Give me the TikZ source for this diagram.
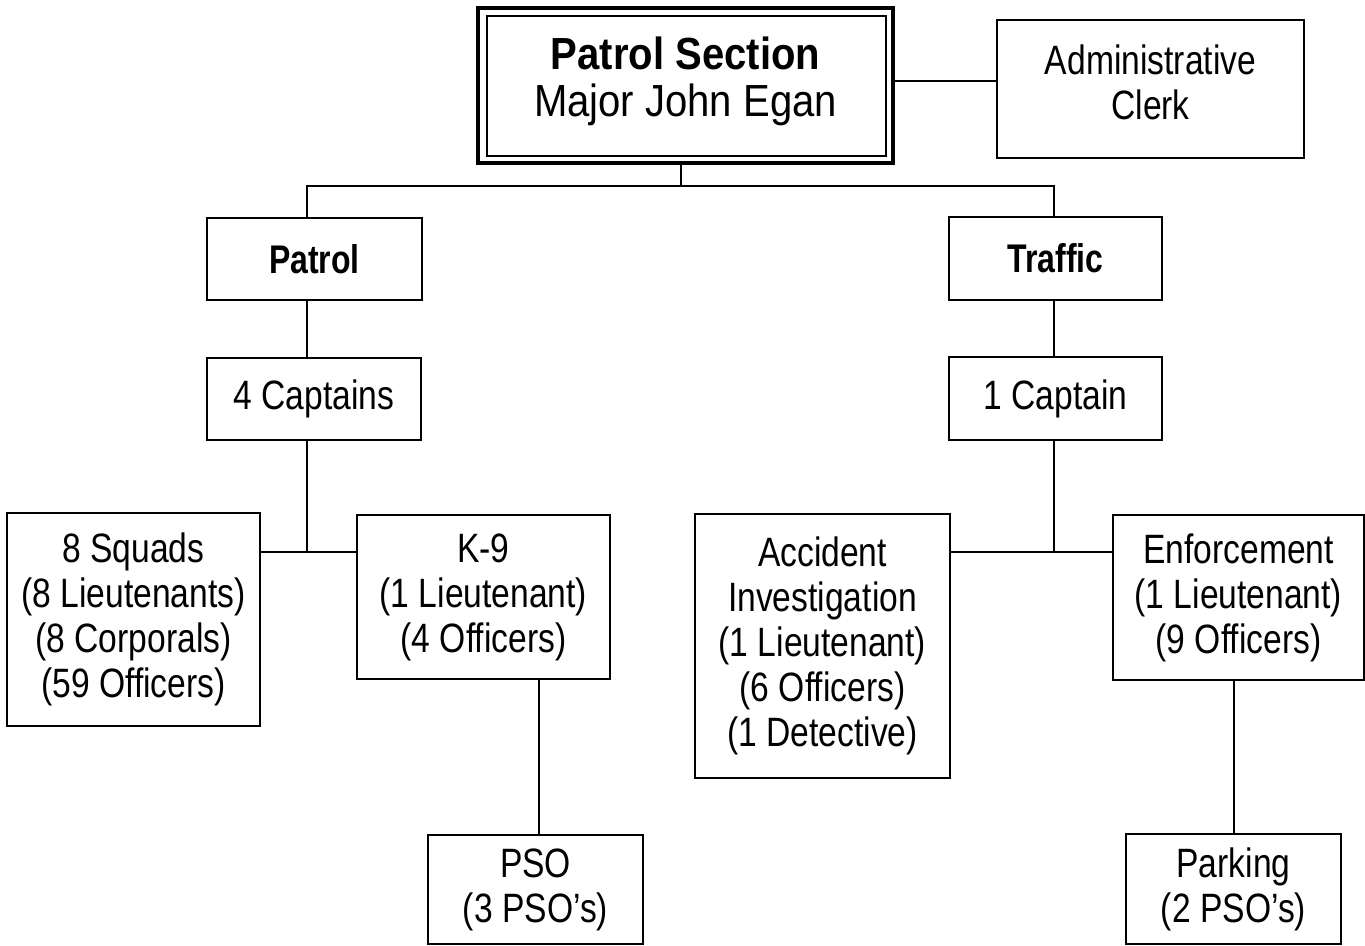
\documentclass[tikz,border=0pt]{standalone}
\usepackage{fontspec}
\setmainfont{Liberation Sans}
\newfontfamily\bodyf{Liberation Sans}[FakeStretch=0.82]
\newfontfamily\headf{Liberation Sans}[FakeStretch=0.80]
\newfontfamily\topf{Liberation Sans}[FakeStretch=0.89]
\usetikzlibrary{calc}
\begin{document}
\begin{tikzpicture}[x=1pt,y=-1pt,
  box/.style={draw=black,line width=2.2pt,outer sep=0pt,inner sep=0pt,
    align=center,font=\bodyf\fontsize{41}{45}\selectfont,fill=white},
  headbox/.style={box,font=\headf\bfseries\fontsize{40}{45}\selectfont},
  topbox/.style={draw=black,line width=4pt,outer sep=0pt,inner sep=0pt,
    align=center,font=\topf\fontsize{45}{47}\selectfont},
  conn/.style={draw=black,line width=2pt}]
\useasboundingbox[fill=white] (0,0) rectangle (1365,945);

% nodes
\node[topbox,minimum width=415pt,minimum height=155.5pt,text depth=17pt] (top) at (685.5,85.25)
  {{\bfseries Patrol Section}\\Major John Egan};
\draw[line width=2pt] ([shift={(8.5pt,7.5pt)}]top.south west) rectangle ([shift={(-7.5pt,-8.5pt)}]top.north east);
\node[box,minimum width=307pt,minimum height=138pt,text depth=14pt] (admin) at (1150.5,89)
  {Administrative\\Clerk};
\node[headbox,minimum width=215pt,minimum height=82pt] (patrol) at (314.5,259) {Patrol};
\node[headbox,minimum width=213pt,minimum height=83pt] (traffic) at (1055.5,258.5) {Traffic};
\node[box,minimum width=214pt,minimum height=82pt] (capt4) at (314,399) {4 Captains};
\node[box,minimum width=213pt,minimum height=83pt] (capt1) at (1055.5,398.5) {1 Captain};
\node[box,minimum width=253pt,minimum height=213pt] (squads) at (133.5,619.5)
  {8 Squads\\(8 Lieutenants)\\(8 Corporals)\\(59 Officers)};
\node[box,minimum width=253pt,minimum height=164pt] (k9) at (483.5,597)
  {K-9\\(1 Lieutenant)\\(4 Officers)};
\node[box,minimum width=215pt,minimum height=109pt] (pso) at (535.5,889.5)
  {PSO\\(3 PSO’s)};
\node[box,minimum width=255pt,minimum height=264pt] (accident) at (822.5,646)
  {Accident\\Investigation\\(1 Lieutenant)\\(6 Officers)\\(1 Detective)};
\node[box,minimum width=251pt,minimum height=165pt] (enforce) at (1238.5,597.5)
  {Enforcement\\(1 Lieutenant)\\(9 Officers)};
\node[box,minimum width=215pt,minimum height=110pt] (parking) at (1233.5,889)
  {Parking\\(2 PSO’s)};

% helper coordinates
\coordinate (busL) at (307,185.5);
\coordinate (busR) at (1053.5,185.5);
\coordinate (jL) at (307,552);
\coordinate (jR) at (1053.5,552);
\coordinate (vK) at (538.5,0);

% connectors
\draw[conn] ([yshift=4pt]top.east) -- ([yshift=4pt]top.east -| admin.west);
\draw[conn] ([xshift=-4.5pt]top.south) -- ([xshift=-4.5pt]top.south |- busL);
\draw[conn] (patrol.north -| busL) -- (busL) -- (busR) -- (traffic.north -| busR);
\draw[conn] (patrol.south -| busL) -- (capt4.north -| busL);
\draw[conn] (capt4.south -| jL) -- (jL);
\draw[conn] (squads.east |- jL) -- (k9.west |- jL);
\draw[conn] (traffic.south -| busR) -- (capt1.north -| busR);
\draw[conn] (capt1.south -| jR) -- (jR);
\draw[conn] (accident.east |- jR) -- (enforce.west |- jR);
\draw[conn] (k9.south -| vK) -- (pso.north -| vK);
\draw[conn] (enforce.south -| parking.north) -- (parking.north);
\end{tikzpicture}
\end{document}
